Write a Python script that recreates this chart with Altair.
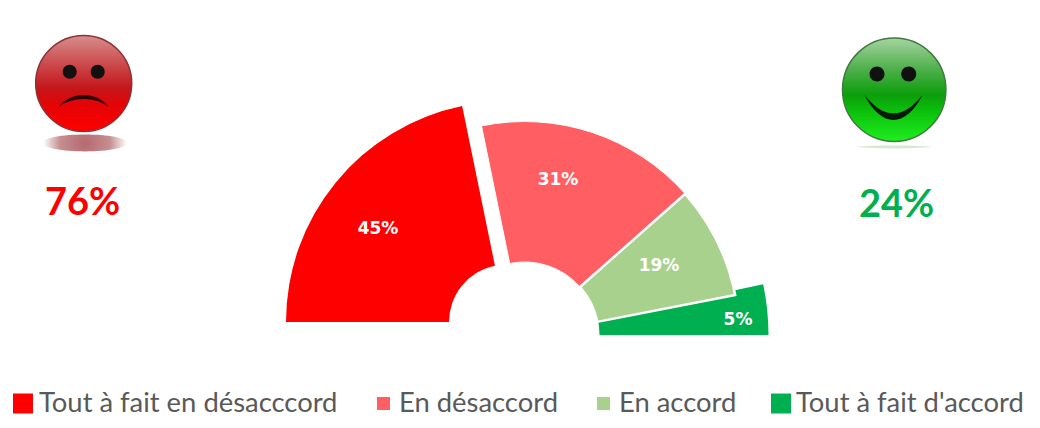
import math
import altair as alt
import pandas as pd

categories = ["Tout à fait en désacccord", "En désaccord", "En accord", "Tout à fait d'accord"]
labels = ["45%", "31%", "19%", "5%"]
# Angular sweep of each slice as drawn in the picture (degrees of the half circle)
sweeps = [78.4, 60.1, 30.5, 11.0]
colors = ["#ff0000", "#ff5f63", "#a9d18e", "#00b050"]
totals = ["76%", "24%"]

M = 8  # page margin: image coordinate minus margin gives chart coordinate
one = pd.DataFrame({"k": [0]})


def px(v):
    return alt.value(v - M)


starts = [sum(sweeps[:i]) for i in range(len(sweeps))]
ends = [s + w for s, w in zip(starts, sweeps)]
slices = pd.DataFrame({"cat": categories, "start": starts, "end": ends, "label": labels})
color_scale = alt.Scale(domain=categories, range=colors)
theta_scale = alt.Scale(domain=[0, 180], range=[1.5 * math.pi, 2.5 * math.pi])


def slice_layer(i, cx, cy, r, r2, stroke=None, sw=0, tuck=0):
    kw = {"stroke": stroke, "strokeWidth": sw} if stroke else {}
    return (
        alt.Chart(slices.iloc[[i]])
        .transform_calculate(s0=f"datum.start - {tuck}")
        .mark_arc(radius=r, radius2=r2, **kw)
        .encode(
            theta=alt.Theta("s0:Q", scale=theta_scale),
            theta2="end:Q",
            color=alt.Color("cat:N", scale=color_scale, legend=None),
            x=px(cx),
            y=px(cy),
        )
    )


def text(s, x, y, size, color, font="Lato", weight="normal", align="center"):
    return (
        alt.Chart(pd.DataFrame({"t": [s]}))
        .mark_text(font=font, fontSize=size, fontWeight=weight, color=color, align=align, baseline="middle")
        .encode(text="t:N", x=px(x), y=px(y))
    )


def shape(path, x, y, half, **kw):
    return (
        alt.Chart(one)
        .mark_point(shape=path, size=(2 * half) ** 2, filled=True, opacity=1, **kw)
        .encode(x=px(x), y=px(y))
    )


def grad(stops, x1=0.5, y1=0, x2=0.5, y2=1):
    return alt.LinearGradient(
        gradient="linear", x1=x1, y1=y1, x2=x2, y2=y2,
        stops=[alt.GradientStop(offset=o, color=c) for o, c in stops],
    )


def radial(stops):
    return alt.RadialGradient(
        gradient="radial", x1=0.5, y1=0.5, r1=0, x2=0.5, y2=0.5, r2=0.5,
        stops=[alt.GradientStop(offset=o, color=c) for o, c in stops],
    )


CIRCLE = "M -1 0 C -1 -0.552 -0.552 -1 0 -1 C 0.552 -1 1 -0.552 1 0 C 1 0.552 0.552 1 0 1 C -0.552 1 -1 0.552 -1 0 Z"
SHADOW = "M -1 0 C -1 -0.12 -0.55 -0.2 0 -0.2 C 0.55 -0.2 1 -0.12 1 0 C 1 0.12 0.55 0.2 0 0.2 C -0.55 0.2 -1 0.12 -1 0 Z"
THIN = "M -1 0 C -0.5 -0.05 0.5 -0.05 1 0 C 0.5 0.05 -0.5 0.05 -1 0 Z"
GLOSS = "M -0.92 0.05 C -0.92 -0.55 -0.5 -0.93 0 -0.93 C 0.5 -0.93 0.92 -0.55 0.92 0.05 C 0.5 -0.12 -0.5 -0.12 -0.92 0.05 Z"
FROWN = "M -1 0.24 C -0.55 -0.4 0.55 -0.4 1 0.24 C 0.5 -0.187 -0.5 -0.187 -1 0.24 Z"
SMILE = "M -1 -0.43 C -0.7 0.15 -0.35 0.43 0 0.43 C 0.35 0.43 0.7 0.15 1 -0.43 C 0.65 0 0.35 0.2 0 0.2 C -0.35 0.2 -0.65 0 -1 -0.43 Z"

layers = [
    slice_layer(3, 524.5, 335, 244, 75, tuck=1),
    slice_layer(1, 524.6, 336, 214.5, 74, "#ffffff", 1),
    slice_layer(2, 524.6, 336, 214.5, 74, "#ffffff", 2.5),
    slice_layer(0, 506.5, 322, 220.5, 57.5),
]

for s, x, y in zip(labels, [378, 558, 659, 738], [229, 180, 266, 320]):
    layers.append(text(s, x, y, 17, "#ffffff", font="DejaVu Sans", weight="bold"))

# Sad face
layers += [
    shape(SHADOW, 85, 143, 42, fill=radial([(0, "#b5696e"), (0.6, "#c58f92"), (1, "#ffffff")])),
    shape(CIRCLE, 83.7, 83.5, 48,
          fill=grad([(0, "#d68d8d"), (0.3, "#cc4a4c"), (0.55, "#c4161a"), (0.72, "#e40406"), (1, "#ff0000")]),
          stroke="#8c3034", strokeWidth=1.5),
    shape(CIRCLE, 69.7, 71.7, 7, fill="#111111"),
    shape(CIRCLE, 97.7, 71.7, 7, fill="#111111"),
    shape(FROWN, 83.7, 101, 25, fill="#2b0505"),
]
# Happy face
layers += [
    shape(THIN, 894, 147, 38, fill="#d5e8d0"),
    shape(CIRCLE, 894.2, 89.7, 51.7,
          fill=grad([(0, "#a5d4a0"), (0.3, "#4fb04c"), (0.55, "#0b9e0b"), (0.72, "#0cc20c"), (1, "#1fee1f")]),
          stroke="#3f7a3f", strokeWidth=1.5),
    shape(CIRCLE, 877, 74, 7.5, fill="#111111"),
    shape(CIRCLE, 908.7, 74, 7.5, fill="#111111"),
    shape(SMILE, 893.5, 107.5, 29, fill="#071a07"),
]

layers.append(text(totals[0], 82.5, 204, 38, "#ff0000", weight="bold"))
layers.append(text(totals[1], 896.5, 206, 38, "#00b050", weight="bold"))

# Legend
sym_x = [23, 383.5, 603.5, 781]
sym_half = [10, 6.5, 6.5, 10]
txt_x = [39, 399, 619, 796]
for i, c in enumerate(categories):
    h = sym_half[i]
    layers.append(
        alt.Chart(slices.iloc[[i]])
        .mark_square(size=(2 * h) ** 2, opacity=1)
        .encode(color=alt.Color("cat:N", scale=color_scale, legend=None), x=px(sym_x[i]), y=px(403.5))
    )
    layers.append(text(c, txt_x[i], 404, 27.4, "#595959", align="left"))

chart = (
    alt.layer(*layers)
    .properties(width=1024, height=412, padding=0, autosize=alt.AutoSizeParams(type="none"), background="#ffffff")
    .configure_view(stroke=None)
)
chart.save("out.html", embed_options={"renderer": "svg", "actions": False})
